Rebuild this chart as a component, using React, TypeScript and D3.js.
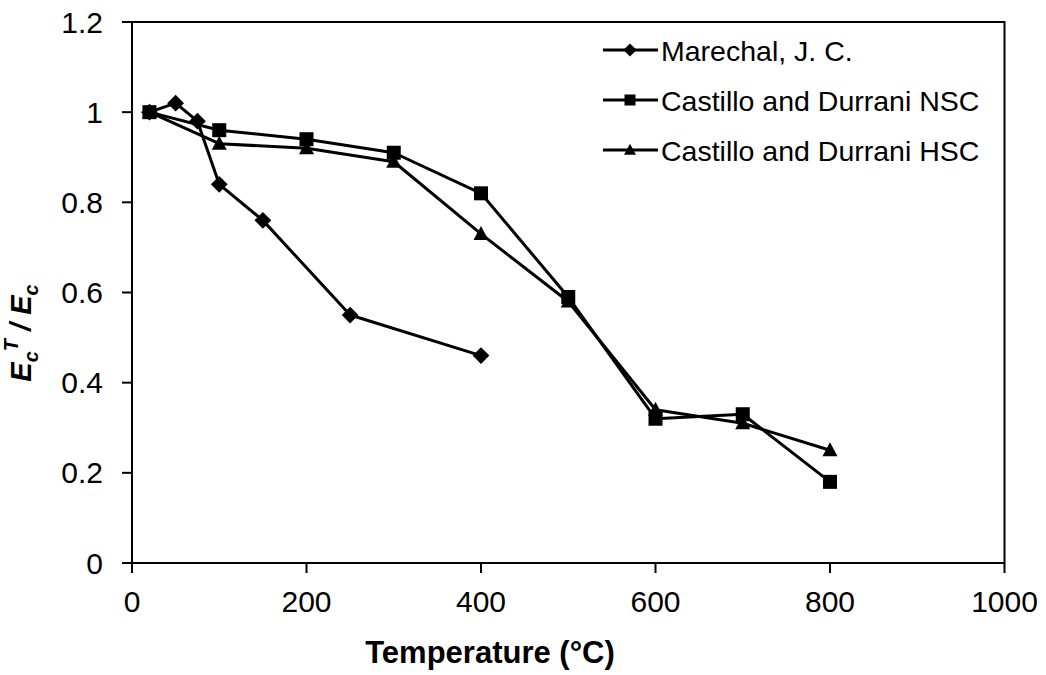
import React from "react";
import * as d3 from "d3";

const seriesNames = ["Marechal, J. C.", "Castillo and Durrani NSC", "Castillo and Durrani HSC"];
const marechalT = [20, 50, 75, 100, 150, 250, 400];
const marechalV = [1.0, 1.02, 0.98, 0.84, 0.76, 0.55, 0.46];
const nscT = [20, 100, 200, 300, 400, 500, 600, 700, 800];
const nscV = [1.0, 0.96, 0.94, 0.91, 0.82, 0.59, 0.32, 0.33, 0.18];
const hscT = [20, 100, 200, 300, 400, 500, 600, 700, 800];
const hscV = [1.0, 0.93, 0.92, 0.89, 0.73, 0.58, 0.34, 0.31, 0.25];
const xTicks = [0, 200, 400, 600, 800, 1000];
const yTicks = [0, 0.2, 0.4, 0.6, 0.8, 1.0, 1.2];
const yTickLabels = ["0", "0.2", "0.4", "0.6", "0.8", "1", "1.2"];

const FONT = "'Liberation Sans', Arial, Helvetica, sans-serif";

export default function App() {
  const W = 1046, H = 675;
  const left = 132, right = 1004.5, top = 22, bottom = 563;
  const x = d3.scaleLinear().domain([0, 1000]).range([left, right]);
  const y = d3.scaleLinear().domain([0, 1.2]).range([bottom, top]);
  const line = d3.line<[number, number]>().x(d => x(d[0])).y(d => y(d[1]));

  const series = [
    { name: seriesNames[0], t: marechalT, v: marechalV, shape: "diamond" },
    { name: seriesNames[1], t: nscT, v: nscV, shape: "square" },
    { name: seriesNames[2], t: hscT, v: hscV, shape: "triangle" },
  ];

  const marker = (shape: string, cx: number, cy: number, s: number, key?: string) => {
    if (shape === "square") {
      return <rect key={key} x={cx - s / 2} y={cy - s / 2} width={s} height={s} fill="#000" />;
    }
    if (shape === "diamond") {
      const r = s * 0.6;
      return <path key={key} d={`M${cx},${cy - r}L${cx + r},${cy}L${cx},${cy + r}L${cx - r},${cy}Z`} fill="#000" />;
    }
    const h = s * 0.95;
    return <path key={key} d={`M${cx},${cy - h * 0.6}L${cx + s / 2 + 0.5},${cy + h * 0.45}L${cx - s / 2 - 0.5},${cy + h * 0.45}Z`} fill="#000" />;
  };

  return (
    <svg width={W} height={H} style={{ position: "absolute", left: 0, top: 0, background: "#fff" }} fontFamily={FONT}>
      <rect x={0} y={0} width={W} height={H} fill="#fff" />
      <rect x={left} y={top} width={right - left} height={bottom - top} fill="none" stroke="#000" strokeWidth={2} />
      {yTicks.map((t, i) => (
        <g key={"yt" + i}>
          <line x1={left - 10} x2={left} y1={y(t)} y2={y(t)} stroke="#000" strokeWidth={2} />
          <text x={left - 29} y={y(t) + 10.5} textAnchor="end" fontSize={30} fill="#000">{yTickLabels[i]}</text>
        </g>
      ))}
      {xTicks.map((t, i) => (
        <g key={"xt" + i}>
          <line x1={x(t)} x2={x(t)} y1={bottom} y2={bottom + 10} stroke="#000" strokeWidth={2} />
          <text x={x(t)} y={bottom + 49} textAnchor="middle" fontSize={30} fill="#000">{t}</text>
        </g>
      ))}
      {series.map((s, si) => {
        const pts: [number, number][] = s.t.map((t, i) => [t, s.v[i]]);
        return (
          <g key={"s" + si}>
            <path d={line(pts) || ""} fill="none" stroke="#000" strokeWidth={3} strokeLinejoin="round" />
            {pts.map((p, i) => marker(s.shape, x(p[0]), y(p[1]), 14, `m${si}-${i}`))}
          </g>
        );
      })}
      {series.map((s, si) => {
        const ly = 50 + si * 50;
        return (
          <g key={"lg" + si}>
            <line x1={603} x2={658} y1={ly} y2={ly} stroke="#000" strokeWidth={3} />
            {marker(s.shape, 630, ly, 11)}
            <text x={661} y={ly + 10.5} fontSize={28.5} fill="#000">{s.name}</text>
          </g>
        );
      })}
      <text x={490} y={663} textAnchor="middle" fontSize={31} fontWeight="bold" fill="#000">Temperature (°C)</text>
      <text transform="translate(31,333) rotate(-90)" textAnchor="middle" fontSize={29} fontWeight="bold" fontStyle="italic" fill="#000">
        <tspan>E</tspan>
        <tspan fontSize={20} dy={7}>c</tspan>
        <tspan fontSize={20} dy={-20}>T</tspan>
        <tspan dy={13}> / E</tspan>
        <tspan fontSize={20} dy={7}>c</tspan>
      </text>
    </svg>
  );
}
